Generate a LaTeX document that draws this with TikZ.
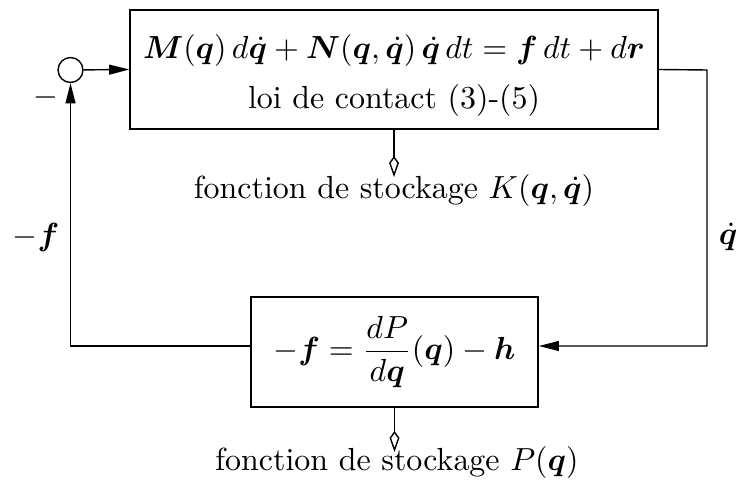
\documentclass[tikz,border=0pt]{standalone}
\usepackage{amsmath,bm}
\usetikzlibrary{arrows.meta}
\begin{document}
\begin{tikzpicture}[x=0.313pt,y=-0.313pt,
  font=\normalsize,
  line width=0.44pt,
  blockbox/.style={draw, inner sep=0pt, align=center},
  sig/.style={-{Triangle[length=6.3pt,width=3.1pt]}},
  store/.style={-{Kite[open,length=6.6pt,width=3.1pt,inset=2.2pt]}},
  lbl/.style={inner sep=0pt}]
\useasboundingbox (0,0) rectangle (738,486);
\node[blockbox, minimum width=165.3pt, minimum height=37.3pt] (sys) at (394,69.5)
  {\rule{0pt}{11.3pt}$\bm{M}(\bm{q})\,d\dot{\bm{q}}+\bm{N}(\bm{q},\dot{\bm{q}})\,\dot{\bm{q}}\,dt=\bm{f}\,dt+d\bm{r}$\\[3.6pt]
   loi de contact (3)-(5)};
\node[blockbox, minimum width=89.9pt, minimum height=34.4pt] (ctl) at (394.5,352)
  {$\displaystyle -\bm{f}=\frac{dP}{d\bm{q}}(\bm{q})-\bm{h}$};
\node[circle, draw, minimum size=7.8pt, inner sep=0pt] (sum) at (70.5,70) {};
\coordinate (rc) at (707,70);
\coordinate (ks) at (394,177);
\coordinate (ps) at (394.5,452);
\node[lbl] (ktext) at (394,191) {fonction de stockage $K(\bm{q},\dot{\bm{q}})$};
\node[lbl] (ptext) at (397,463) {fonction de stockage $P(\bm{q})$};
\node[lbl] (minus) at (46,98) {$-$};
\node[lbl] (fl) at (36,238) {$-\bm{f}$};
\node[lbl] (qd) at (728,237) {$\dot{\bm{q}}$};
\draw[sig] (sum) -- (sys.west);
\draw[sig] (sys.east) -- (rc) |- ([yshift=1.88pt]ctl.east);
\draw[sig] ([yshift=1.88pt]ctl.west) -| (sum.south);
\draw[store] (sys.south) -- (ks);
\draw[store] (ctl.south) -- (ps);
\end{tikzpicture}
\end{document}
